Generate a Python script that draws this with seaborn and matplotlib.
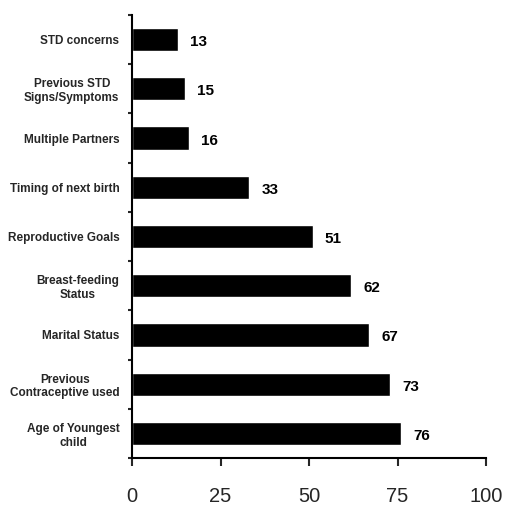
import pandas as pd
import matplotlib
matplotlib.use("Agg")
import matplotlib.pyplot as plt
import seaborn as sns

categories = ["STD concerns", "Previous STD\nSigns/Symptoms", "Multiple Partners",
              "Timing of next birth", "Reproductive Goals", "Breast-feeding\nStatus",
              "Marital Status", "Previous\nContraceptive used", "Age of Youngest\nchild"]
values = [13, 15, 16, 33, 51, 62, 67, 73, 76]
x_ticks = [0, 25, 50, 75, 100]

df = pd.DataFrame({"factor": categories, "value": values})

sns.set_style("white")
plt.rcParams["font.family"] = ["Liberation Sans", "DejaVu Sans"]

fig = plt.figure(figsize=(5.05, 5.08), dpi=100)
ax = fig.add_axes([132 / 505, 50 / 508, 354 / 505, 443 / 508])

sns.barplot(data=df, x="value", y="factor", orient="h", color="black",
            width=0.47, saturation=1, ax=ax)

# value labels to the right of each bar
for i, v in enumerate(values):
    ax.text(v + 3.5, i + 0.05, str(v), va="center", ha="left",
            fontsize=11, fontweight="bold", color="black")

ax.set_xlim(0, 100)
ax.set_ylim(len(categories) - 0.5, -0.5)
ax.set_xticks(x_ticks)
ax.set_xticklabels([str(t) for t in x_ticks], fontsize=14.5)
ax.tick_params(axis="x", direction="out", length=6, width=1.5, pad=15, bottom=True)

# category labels, ticks drawn only at the bar boundaries
ax.set_yticks(range(len(categories)))
ax.set_yticklabels(categories, fontsize=8.5, fontweight="bold", multialignment="center")
ax.tick_params(axis="y", which="major", length=0, pad=9)
ax.set_yticks([k - 0.5 for k in range(len(categories) + 1)], minor=True)
ax.tick_params(axis="y", which="minor", direction="out", length=3, width=1.5, left=True)

ax.set_xlabel("")
ax.set_ylabel("")
sns.despine(ax=ax)
for side in ["left", "bottom"]:
    ax.spines[side].set_linewidth(1.5)
    ax.spines[side].set_color("black")

fig.savefig("out.png", dpi=100)
